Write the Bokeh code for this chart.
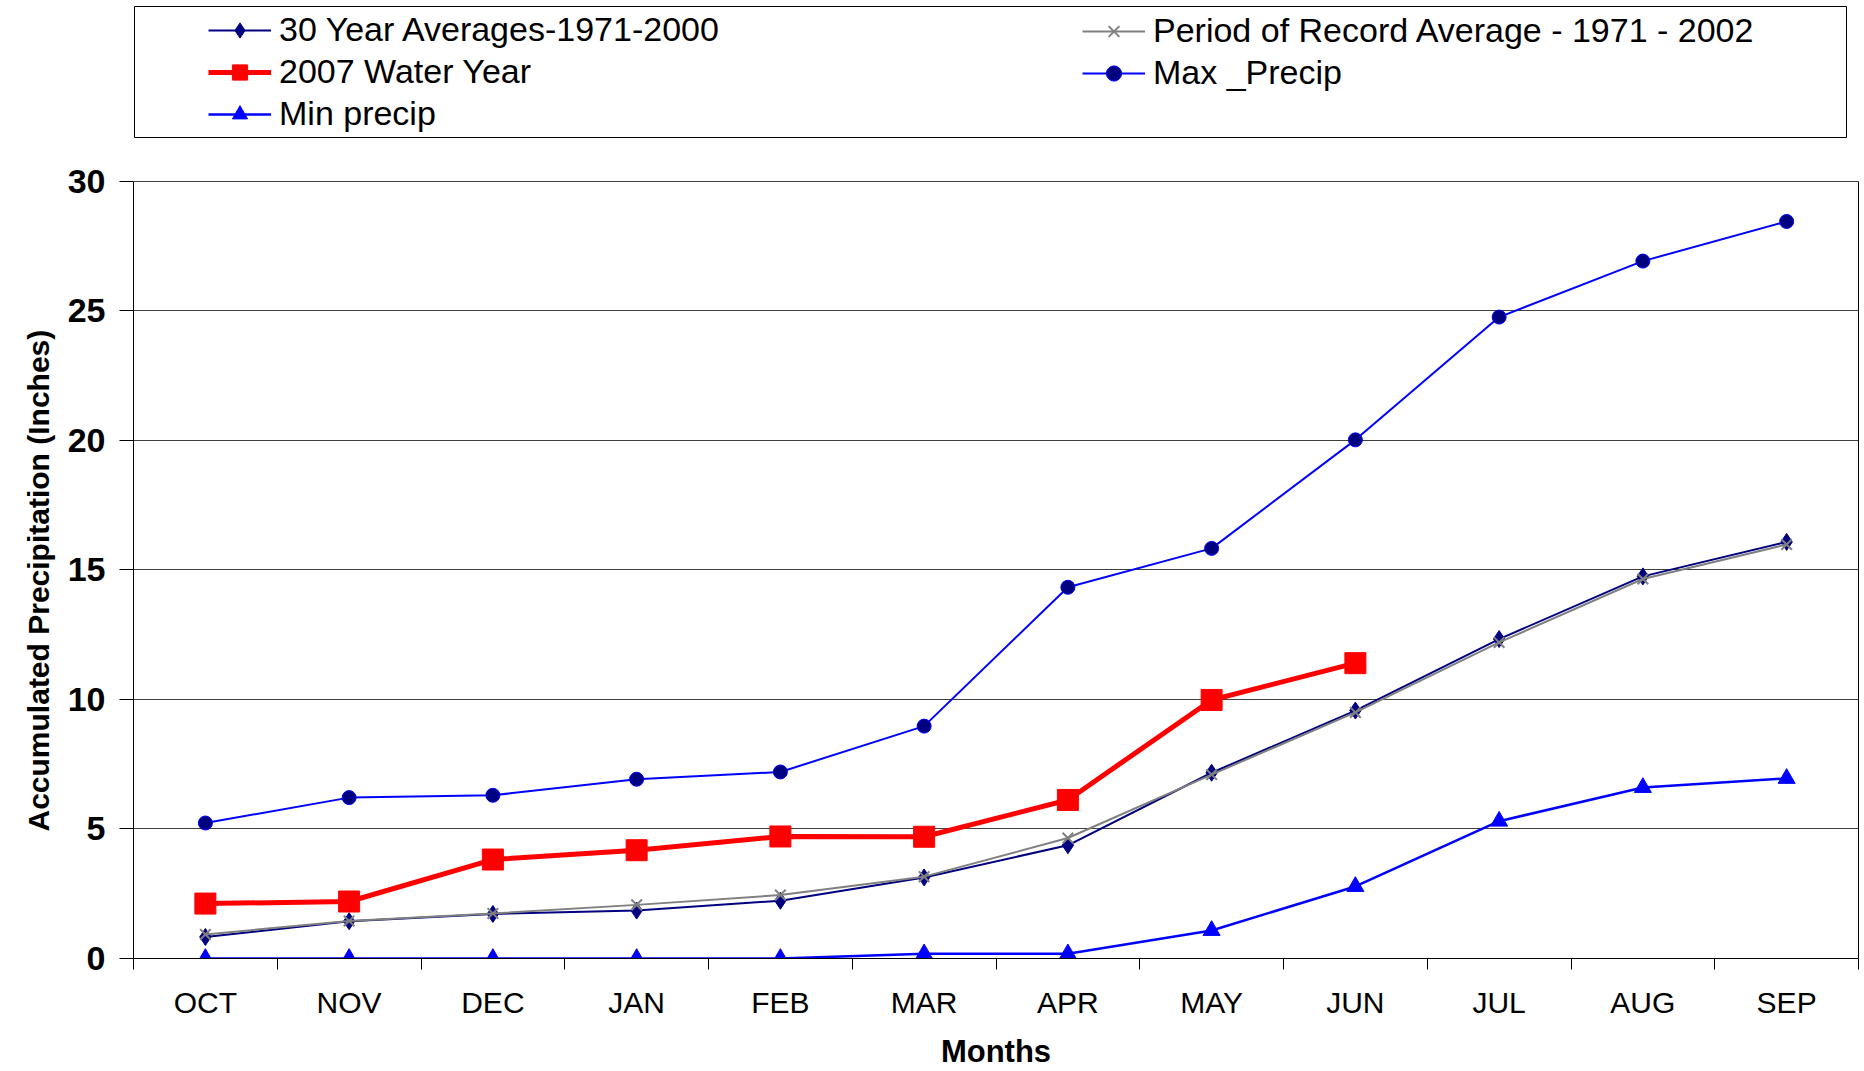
from bokeh.plotting import figure
from bokeh.models import (FactorRange, Range1d, LinearAxis, CategoricalAxis,
                          FixedTicker, Legend, LegendItem, BoxAnnotation, Title)
from bokeh.embed import file_html
from bokeh.resources import INLINE

# ---------------- data ----------------
months = ["OCT", "NOV", "DEC", "JAN", "FEB", "MAR", "APR", "MAY", "JUN", "JUL", "AUG", "SEP"]
avg_30yr = [0.83, 1.44, 1.72, 1.85, 2.23, 3.13, 4.37, 7.17, 9.57, 12.33, 14.75, 16.08]
por_avg = [0.93, 1.45, 1.74, 2.07, 2.45, 3.16, 4.65, 7.10, 9.50, 12.20, 14.65, 15.98]
wy2007_months = ["OCT", "NOV", "DEC", "JAN", "FEB", "MAR", "APR", "MAY", "JUN"]
wy2007 = [2.12, 2.20, 3.82, 4.18, 4.71, 4.70, 6.12, 9.98, 11.40]
max_precip = [5.23, 6.21, 6.30, 6.92, 7.20, 8.97, 14.33, 15.83, 20.02, 24.76, 26.92, 28.45]
min_precip = [0.0, 0.0, 0.0, 0.0, 0.0, 0.18, 0.18, 1.08, 2.78, 5.30, 6.60, 6.95]
y_ticks = [0, 5, 10, 15, 20, 25, 30]

labels = ["30 Year Averages-1971-2000", "Period of Record Average - 1971 - 2002",
          "2007 Water Year", "Max _Precip", "Min precip"]
y_title = "Accumulated Precipitation (Inches)"
x_title = "Months"

FONT = "Liberation Sans"
NAVY = "#000080"
GRAY = "#808080"
RED = "#FF0000"
BLUE = "#0000FF"

styles = [
    dict(line_color=NAVY, line_width=2, marker="diamond", size=17, fill_color=NAVY, mline=NAVY),
    dict(line_color=GRAY, line_width=2, marker="x", size=15, fill_color=GRAY, mline=GRAY),
    dict(line_color=RED, line_width=5, marker="square", size=21, fill_color=RED, mline=RED),
    dict(line_color=BLUE, line_width=2, marker="circle", size=14, fill_color=NAVY, mline=BLUE),
    dict(line_color=BLUE, line_width=2.5, marker="triangle", size=17, fill_color=BLUE, mline=BLUE),
]
series = [(months, avg_30yr), (months, por_avg), (wy2007_months, wy2007),
          (months, max_precip), (months, min_precip)]

# ---------------- layout geometry (pixels) ----------------
W, H = 1864, 1071
FRAME_TOP, PLOT_TOP, PLOT_BOTTOM = 4, 181, 959
y_max = y_ticks[-1]
# the frame extends above the plotting area so the legend lives inside it
y_top = y_max + (PLOT_TOP - FRAME_TOP) * y_max / (PLOT_BOTTOM - PLOT_TOP)

p = figure(width=W, height=H, x_range=FactorRange(factors=months),
           y_range=Range1d(0, y_top), output_backend="svg", toolbar_location=None,
           x_axis_location=None, min_border_left=133, min_border_right=6,
           min_border_top=FRAME_TOP, min_border_bottom=H - PLOT_BOTTOM,
           outline_line_color=None)

# tick marks at the boundaries between month categories
tick_axis = LinearAxis(ticker=FixedTicker(ticks=list(range(len(months) + 1))),
                       major_tick_out=11, major_tick_in=0, minor_tick_out=0,
                       minor_tick_in=0, major_label_text_font_size="1px",
                       major_label_text_alpha=0, major_label_standoff=0,
                       axis_line_color="black", major_tick_line_color="black")
p.add_layout(tick_axis, "below")

cat_axis = CategoricalAxis(major_tick_out=0, major_tick_in=0, axis_line_color=None,
                           major_label_standoff=16,
                           major_label_text_font=FONT,
                           major_label_text_font_size="30px",
                           major_label_text_color="black",
                           axis_label=x_title, axis_label_standoff=12,
                           axis_label_text_font=FONT, axis_label_text_font_style="bold",
                           axis_label_text_font_size="31px", axis_label_text_color="black")
p.add_layout(cat_axis, "below")

ya = p.yaxis[0]
ya.bounds = (0, y_max)
ya.ticker = FixedTicker(ticks=y_ticks)
ya.major_tick_out = 14
ya.major_tick_in = 0
ya.minor_tick_out = 0
ya.minor_tick_in = 0
ya.axis_line_color = "black"
ya.major_tick_line_color = "black"
ya.major_label_standoff = 14
ya.major_label_text_font = FONT
ya.major_label_text_font_style = "bold"
ya.major_label_text_font_size = "34px"
ya.major_label_text_color = "black"

# y axis title, centred on the plotting area (not on the taller frame)
p.add_layout(Title(text=y_title, align="left", offset=127, text_font=FONT,
                   text_font_style="bold", text_font_size="30px",
                   text_color="black", standoff=20), "left")

# right border of the plotting area
right_border = LinearAxis(bounds=(0, y_max), ticker=FixedTicker(ticks=[]),
                          major_tick_out=0, major_tick_in=0, minor_tick_out=0,
                          minor_tick_in=0, major_label_text_font_size="1px",
                          major_label_text_alpha=0, major_label_standoff=0,
                          axis_line_color="black")
p.add_layout(right_border, "right")

p.xgrid.visible = False
p.ygrid.ticker = FixedTicker(ticks=y_ticks)
p.ygrid.grid_line_color = "#404040"
p.ygrid.grid_line_width = 1

items = []
for lab, (xs, ys), st in zip(labels, series, styles):
    r_line = p.line(xs, ys, line_color=st["line_color"], line_width=st["line_width"])
    r_mark = p.scatter(xs, ys, marker=st["marker"], size=st["size"],
                       fill_color=st["fill_color"], line_color=st["mline"],
                       line_width=2 if st["marker"] == "x" else 1)
    items.append(LegendItem(label=lab, renderers=[r_line, r_mark]))

# legend box (canvas coordinates)
p.add_layout(BoxAnnotation(left=134, right=1846, top=6, bottom=137,
                           left_units="canvas", right_units="canvas",
                           top_units="canvas", bottom_units="canvas",
                           fill_alpha=0, line_color="#000000", line_alpha=1,
                           line_width=1, level="overlay"))

common = dict(orientation="vertical", glyph_width=63, glyph_height=38,
              label_height=20, label_standoff=8, spacing=3, padding=0, margin=0,
              border_line_alpha=0, background_fill_alpha=0,
              label_text_font=FONT, label_text_font_size="34px",
              label_text_color="black")
leg1 = Legend(items=[items[0], items[2], items[4]], location=(75, 825), **common)
leg2 = Legend(items=[items[1], items[3]], location=(949, 866), **common)
p.add_layout(leg1)
p.add_layout(leg2)

open("out.html", "w").write(file_html(p, INLINE))
